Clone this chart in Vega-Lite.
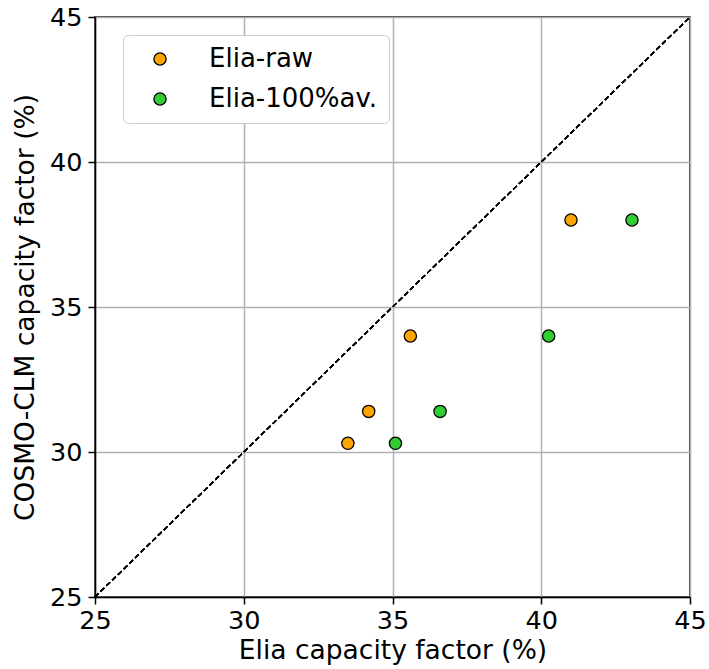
{
  "$schema": "https://vega.github.io/schema/vega-lite/v6.json",
  "width": 595,
  "height": 580,
  "autosize": {"type": "none"},
  "padding": {"left": 95, "top": 17, "right": 19, "bottom": 72},
  "background": "white",
  "config": {
    "font": "DejaVu Sans",
    "view": {"stroke": "black", "strokeWidth": 1.5},
    "axis": {
      "grid": true,
      "domainColor": "black",
      "domainWidth": 1.5,
      "tickColor": "black",
      "tickWidth": 1.5,
      "tickSize": 7,
      "gridColor": "#b0b0b0",
      "gridWidth": 1.5,
      "labelFont": "DejaVu Sans",
      "labelFontSize": 25.5,
      "labelColor": "black",
      "labelFlush": false,
      "titleFont": "DejaVu Sans",
      "titleFontSize": 26.5,
      "titleFontWeight": "normal",
      "titleColor": "black"
    },
    "legend": {
      "labelFont": "DejaVu Sans",
      "labelFontSize": 26,
      "labelColor": "black",
      "labelLimit": 0
    }
  },
  "data": {
    "values": [
      {"series": "Elia-raw", "elia": 33.5, "cosmo": 30.3},
      {"series": "Elia-raw", "elia": 34.2, "cosmo": 31.4},
      {"series": "Elia-raw", "elia": 35.6, "cosmo": 34.0},
      {"series": "Elia-raw", "elia": 41.0, "cosmo": 38.0},
      {"series": "Elia-100%av.", "elia": 35.1, "cosmo": 30.3},
      {"series": "Elia-100%av.", "elia": 36.6, "cosmo": 31.4},
      {"series": "Elia-100%av.", "elia": 40.25, "cosmo": 34.0},
      {"series": "Elia-100%av.", "elia": 43.05, "cosmo": 38.0}
    ]
  },
  "layer": [
    {
      "mark": {"type": "rule", "color": "black", "strokeWidth": 1.3, "strokeDash": [5, 3]},
      "encoding": {
        "x": {"datum": 25, "type": "quantitative", "scale": {"domain": [25, 45], "nice": false, "zero": false}, "axis": {"values": [25, 30, 35, 40, 45], "grid": true, "title": "Elia capacity factor (%)", "labelPadding": 4, "titlePadding": 4}},
        "y": {"datum": 25, "type": "quantitative", "scale": {"domain": [25, 45], "nice": false, "zero": false}, "axis": {"values": [25, 30, 35, 40, 45], "grid": true, "title": "COSMO-CLM capacity factor (%)", "labelPadding": 6, "titlePadding": 10}},
        "x2": {"datum": 45},
        "y2": {"datum": 45}
      }
    },
    {
      "mark": {"type": "point", "filled": true, "shape": "circle", "size": 150, "stroke": "black", "strokeWidth": 1.3, "opacity": 1},
      "encoding": {
        "x": {
          "field": "elia", "type": "quantitative",
          "scale": {"domain": [25, 45], "nice": false, "zero": false},
          "axis": {"values": [25, 30, 35, 40, 45], "grid": true, "title": "Elia capacity factor (%)", "labelPadding": 4, "titlePadding": 4}
        },
        "y": {
          "field": "cosmo", "type": "quantitative",
          "scale": {"domain": [25, 45], "nice": false, "zero": false},
          "axis": {"values": [25, 30, 35, 40, 45], "grid": true, "title": "COSMO-CLM capacity factor (%)", "labelPadding": 6, "titlePadding": 10}
        },
        "color": {
          "field": "series", "type": "nominal",
          "scale": {"domain": ["Elia-raw", "Elia-100%av."], "range": ["#FFA500", "#32CD32"]},
          "legend": {
            "title": null,
            "orient": "none",
            "legendX": 28,
            "legendY": 18,
            "padding": 11,
            "strokeColor": "#cccccc",
            "fillColor": "white",
            "cornerRadius": 5,
            "symbolSize": 150,
            "symbolStrokeColor": "black",
            "symbolStrokeWidth": 1.3,
            "symbolOffset": 13,
            "labelOffset": 36,
            "rowPadding": 14,
            "labelLimit": 0
          }
        }
      }
    }
  ]
}
